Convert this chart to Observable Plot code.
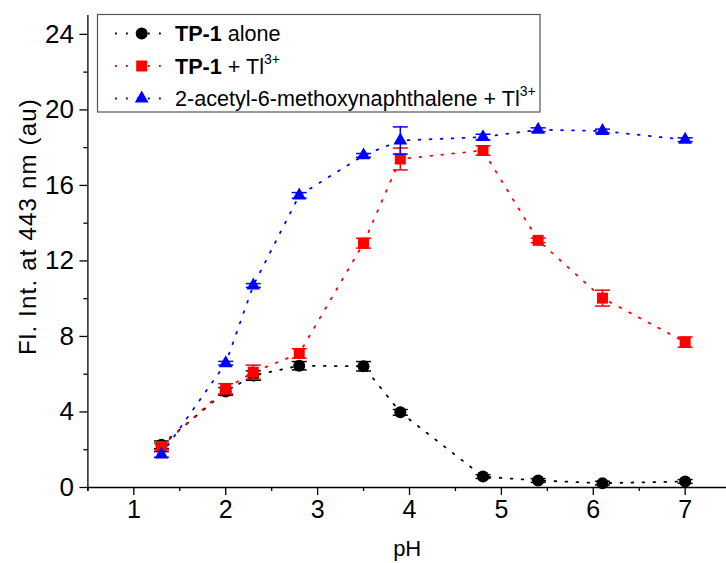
<!DOCTYPE html>
<html><head><meta charset="utf-8">
<script src="https://cdn.jsdelivr.net/npm/d3@7"></script>
<script src="https://cdn.jsdelivr.net/npm/@observablehq/plot@0.6"></script>
<style>
body{margin:0;background:#fff}
#chart{position:relative;width:726px;height:563px}
</style>
</head><body><div id="chart"></div>
<script>
// ---- data ----
const pH = [1.3, 2.0, 2.3, 2.8, 3.5, 3.9, 4.8, 5.4, 6.1, 7.0];
const seriesNames = ["TP-1 alone", "TP-1 + Tl3+", "2-acetyl-6-methoxynaphthalene + Tl3+"];
const tp1Alone    = [2.26, 5.09, 5.93, 6.45, 6.42, 3.98, 0.58, 0.37, 0.23, 0.32];
const tp1AloneErr = [0.2, 0.2, 0.25, 0.22, 0.25, 0.15, 0.1, 0.1, 0.1, 0.1];
const tp1Tl       = [2.17, 5.23, 6.11, 7.1, 12.94, 17.4, 17.85, 13.09, 10.03, 7.7];
const tp1TlErr    = [0.17, 0.27, 0.37, 0.25, 0.26, 0.58, 0.25, 0.12, 0.42, 0.27];
const naphTl      = [1.75, 6.58, 10.7, 15.47, 17.59, 18.38, 18.56, 18.95, 18.88, 18.42];
const naphTlErr   = [0.15, 0.1, 0.1, 0.15, 0.1, 0.72, 0.15, 0.1, 0.1, 0.1];
const colors  = ["#000000", "#ff0000", "#0000ff"];
const symbols = ["circle", "square", "triangle"];
const symbolR = [6, 6.2, 5.1];
const xTicks = [1, 2, 3, 4, 5, 6, 7];
const xMinor = [0.5, 1.5, 2.5, 3.5, 4.5, 5.5, 6.5];
const yTicks = [0, 4, 8, 12, 16, 20, 24];
const yMinor = [2, 6, 10, 14, 18, 22];
const xTitle = "pH";
const yTitle = "Fl. Int. at 443 nm (au)";

const values = [tp1Alone, tp1Tl, naphTl];
const errs = [tp1AloneErr, tp1TlErr, naphTlErr];
const rows = [];
values.forEach((vals, s) => vals.forEach((v, i) =>
  rows.push({series: seriesNames[s], s, pH: pH[i], v, e: errs[s][i]})));

const capSymbol = {draw(ctx, size) { const w = Math.sqrt(size / Math.PI); ctx.moveTo(-w, 0); ctx.lineTo(w, 0); }};
const FONT = "'Liberation Sans', Arial, sans-serif";
const DASH = "1.8,9.2";

const marks = [
  Plot.ruleY([0], {stroke: "black", strokeWidth: 1.3}),
  Plot.ruleX([0.5], {stroke: "black", strokeWidth: 1.3, insetBottom: -4}),
  Plot.axisY(yTicks, {tickSize: 8, tickPadding: 6, fontSize: 26, strokeWidth: 1.3, label: null}),
  Plot.axisY(yMinor, {tickSize: 4, tickFormat: () => "", strokeWidth: 1.3, label: null}),
  Plot.axisX(xTicks, {tickSize: 8, tickPadding: 5, fontSize: 25, strokeWidth: 1.3, label: null}),
  Plot.axisX(xMinor, {tickSize: 4, tickFormat: () => "", strokeWidth: 1.3, label: null}),
  Plot.text([xTitle], {frameAnchor: "bottom", dy: 68, fontSize: 22, fill: "black"}),
];
seriesNames.forEach((name, s) => {
  const f = d => d.s === s;
  marks.push(
    Plot.line(rows, {filter: f, x: "pH", y: "v", stroke: colors[s], strokeWidth: 1.8, strokeDasharray: DASH}),
    Plot.ruleX(rows, {filter: f, x: "pH", y1: d => d.v - d.e, y2: d => d.v + d.e, stroke: colors[s], strokeWidth: 1.5}),
    Plot.dot(rows, {filter: f, x: "pH", y: d => d.v + d.e, symbol: capSymbol, r: 7.5, stroke: colors[s], strokeWidth: 1.5}),
    Plot.dot(rows, {filter: f, x: "pH", y: d => d.v - d.e, symbol: capSymbol, r: 7.5, stroke: colors[s], strokeWidth: 1.5}),
    Plot.dot(rows, {filter: f, x: "pH", y: "v", symbol: symbols[s], r: symbolR[s], fill: colors[s], stroke: "none"})
  );
});

const chart = Plot.plot({
  width: 726, height: 563,
  marginTop: 15, marginBottom: 76, marginLeft: 87.4, marginRight: 0,
  x: {domain: [0.5, 7.45], axis: null},
  y: {domain: [0, 25], axis: null},
  style: {fontFamily: FONT, fontSize: "22px", color: "black", background: "white"},
  marks
});
document.getElementById("chart").appendChild(chart);

// y title and legend
const svg = d3.select(chart);
svg.append("text")
  .attr("transform", "translate(36,226.5) rotate(-90)")
  .attr("text-anchor", "middle")
  .attr("font-family", FONT).attr("font-size", 24)
  .attr("letter-spacing", 1.2)
  .attr("fill", "black")
  .text(yTitle);

const lg = svg.append("g");
lg.append("rect").attr("x", 97.5).attr("y", 14.5).attr("width", 442.5).attr("height", 97.5)
  .attr("fill", "white").attr("stroke", "#555").attr("stroke-width", 1.2);
const baselines = [41, 73.5, 106];
seriesNames.forEach((name, s) => {
  const cy = baselines[s] - 7.5;
  lg.append("line").attr("x1", 115).attr("x2", 165).attr("y1", cy).attr("y2", cy)
    .attr("stroke", colors[s]).attr("stroke-width", 1.8).attr("stroke-dasharray", DASH);
  const symType = {circle: d3.symbolCircle, square: d3.symbolSquare, triangle: d3.symbolTriangle}[symbols[s]];
  lg.append("path").attr("transform", `translate(141.7,${cy})`)
    .attr("d", d3.symbol(symType, symbolR[s] * symbolR[s] * Math.PI)())
    .attr("fill", colors[s]);
  const t = lg.append("text").attr("x", 175).attr("y", baselines[s])
    .attr("text-anchor", "start")
    .attr("font-family", FONT).attr("font-size", 21.6).attr("fill", "black");
  let main = name, sup = null;
  if (name.endsWith("Tl3+")) { main = name.slice(0, -2); sup = "3+"; }
  if (main.startsWith("TP-1")) {
    t.append("tspan").attr("font-weight", "bold").text("TP-1");
    t.append("tspan").text(main.slice(4));
  } else {
    t.append("tspan").text(main);
  }
  if (sup) t.append("tspan").attr("font-size", 14).attr("dy", -10).text(sup);
});
</script>
</body></html>
